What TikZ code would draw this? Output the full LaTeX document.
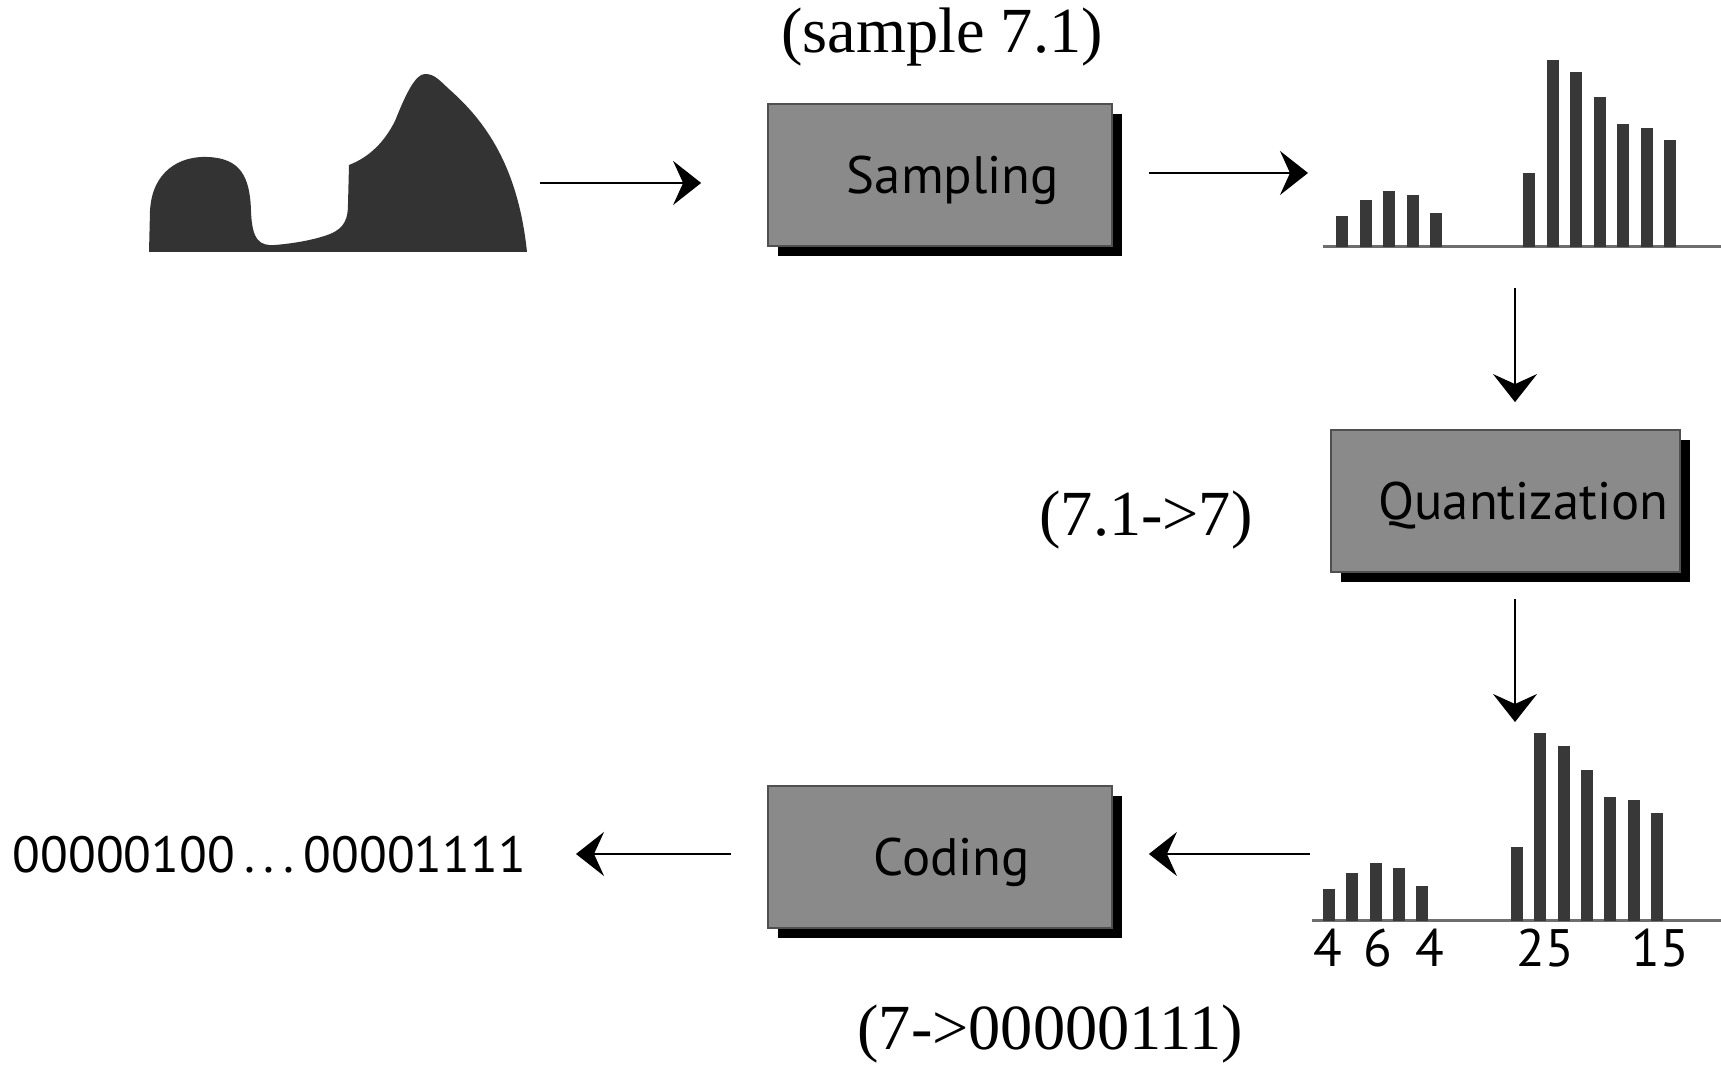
\documentclass[tikz,border=0pt]{standalone}
\usepackage{fontspec}
\setmainfont{Liberation Serif}
\setsansfont{PT Sans}
\usetikzlibrary{arrows.meta,shadows}
\definecolor{boxgray}{HTML}{8A8A8A}
\definecolor{boxline}{HTML}{505050}
\definecolor{barc}{HTML}{383838}
\definecolor{basec}{HTML}{6E6E6E}
\definecolor{wavec}{HTML}{333333}

\begin{document}
\begin{tikzpicture}[>={Stealth[length=2.8mm,width=4.4mm,inset=1mm]},line width=0.6pt]
\tikzstyle{b}=[draw=boxline,fill=boxgray,line width=0.5pt,minimum width=3.44cm,minimum height=1.42cm,text depth=0pt,font=\sffamily\fontsize{15}{18}\selectfont,drop shadow={shadow xshift=1mm,shadow yshift=-1mm,fill=black,opacity=1}]
\tikzstyle{lbl}=[font=\fontsize{18.3}{22}\selectfont,inner sep=0pt]
\tikzstyle{num}=[font=\sffamily\fontsize{15}{18}\selectfont,inner sep=0pt]
\useasboundingbox (0,0) rectangle (17.21,10.66);
% analog signal
\fill[wavec] (1.49,8.14) -- (1.50,8.55) .. controls (1.52,8.95) and (1.80,9.10) .. (2.07,9.09) .. controls (2.40,9.08) and (2.50,8.90) .. (2.51,8.55) .. controls (2.52,8.25) and (2.60,8.20) .. (2.75,8.21) .. controls (3.00,8.23) and (3.20,8.28) .. (3.30,8.32) .. controls (3.45,8.38) and (3.48,8.48) .. (3.48,8.62) -- (3.49,9.01) .. controls (3.70,9.09) and (3.85,9.25) .. (3.95,9.45) .. controls (4.05,9.70) and (4.15,9.92) .. (4.25,9.92) .. controls (4.35,9.92) and (4.40,9.85) .. (4.50,9.76) .. controls (4.85,9.45) and (5.18,9.00) .. (5.27,8.14) -- cycle;
\coordinate (wv) at (5.40,8.83);
% the three steps
\node[b] (samp) at (9.40,8.91) {\hspace{0.26cm}Sampling};
\node[b] (quant) at (15.055,5.65) {\hspace{0.36cm}Quantization};
\node[b] (cod) at (9.40,2.09) {\hspace{0.24cm}Coding};
\node[lbl] (smp) at (9.42,10.29) {(sample 7.1)};
\node[lbl] (qnt) at (11.46,5.46) {(7.1->7)};
\node[lbl] (cdg) at (10.50,0.32) {(7->00000111)};
% sampled values
\draw[basec,line width=0.85pt] (13.23,8.19) -- (17.21,8.19);
\foreach \h [count=\i from 0] in {0.31,0.47,0.56,0.52,0.34} \fill[barc] (13.36+0.235*\i,8.19) rectangle ++(0.12,\h);
\foreach \h [count=\i from 0] in {0.74,1.87,1.75,1.50,1.23,1.19,1.07} \fill[barc] (15.23+0.235*\i,8.19) rectangle ++(0.12,\h);
\coordinate (s1) at (13.08,8.93);
\coordinate (q1) at (15.15,7.78);
% quantized values
\draw[basec,line width=0.85pt] (13.12,1.45) -- (17.21,1.45);
\foreach \h [count=\i from 0] in {0.32,0.48,0.58,0.53,0.35} \fill[barc] (13.23+0.2325*\i,1.45) rectangle ++(0.12,\h);
\foreach \h [count=\i from 0] in {0.74,1.88,1.75,1.51,1.24,1.21,1.08} \fill[barc] (15.11+0.2335*\i,1.45) rectangle ++(0.12,\h);
\node[num] (n4a) at (13.28,1.18) {4}; \node[num] (n6) at (13.78,1.18) {6}; \node[num] (n4b) at (14.30,1.18) {4};
\node[num] (n25) at (15.45,1.18) {25}; \node[num] (n15) at (16.60,1.18) {15};
\coordinate (q2) at (15.15,3.44);
\coordinate (c1) at (13.10,2.12);
\node[num,font=\sffamily\fontsize{14.5}{18}\selectfont,anchor=east] (bits) at (5.27,2.11) {00000100\hspace{0.9mm}.\hspace{0.9mm}.\hspace{0.9mm}.\hspace{0.9mm}00001111};
% connectors
\draw[->,shorten >=6.6mm] (wv) -- (wv -| samp.west);
\draw[->,shorten <=3.6mm] (samp.east |- s1) -- (s1);
\draw[->,shorten >=2.7mm] (q1) -- (q1 |- quant.north);
\draw[->,shorten <=2.6mm] (q2 |- quant.south) -- (q2);
\draw[->,shorten >=3.6mm] (c1) -- (c1 -| cod.east);
\draw[->,shorten <=3.6mm,shorten >=4.9mm] (cod.west |- c1) -- (c1 -| bits.east);
\end{tikzpicture}
\end{document}
